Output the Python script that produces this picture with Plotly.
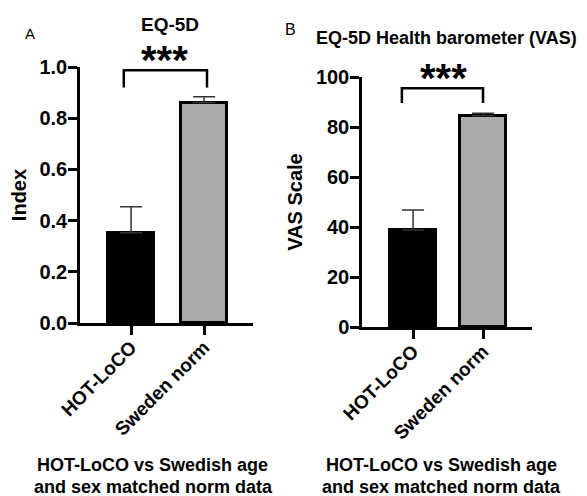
import plotly.graph_objects as go

# Data
categories = ["HOT-LoCO", "Sweden norm"]
eq5d_index = [0.353, 0.861]
eq5d_err = [0.101, 0.023]
vas_scale = [38.8, 84.5]
vas_err = [8.0, 1.0]
bar_colors = ["#000000", "#aaaaaa"]
y1_ticks = [0, 0.2, 0.4, 0.6, 0.8, 1.0]
y1_ticktext = ["0.0", "0.2", "0.4", "0.6", "0.8", "1.0"]
y2_ticks = [0, 20, 40, 60, 80, 100]

FONT = "Arial, Liberation Sans, sans-serif"
OFF = 8  # page body margin
W, H = 587 - OFF, 496 - OFF

def px_x(p):
    return (p - OFF) / W

def px_y(p):
    return 1 - (p - OFF) / H

fig = go.Figure()

fig.add_trace(go.Bar(
    x=[0, 1], y=eq5d_index, width=0.64,
    marker=dict(color=bar_colors, line=dict(color="black", width=3)),
    error_y=dict(type="data", array=eq5d_err, arrayminus=[0, 0], symmetric=False,
                 color="#333333", thickness=1.5, width=11),
    xaxis="x", yaxis="y", showlegend=False, hoverinfo="skip"))

fig.add_trace(go.Bar(
    x=[0, 1], y=vas_scale, width=0.66,
    marker=dict(color=bar_colors, line=dict(color="black", width=3)),
    error_y=dict(type="data", array=vas_err, arrayminus=[0, 0], symmetric=False,
                 color="#333333", thickness=1.5, width=11),
    xaxis="x2", yaxis="y2", showlegend=False, hoverinfo="skip"))

axis_common = dict(showline=True, linecolor="black", linewidth=2.5, ticks="outside",
                   ticklen=9, tickwidth=2.5, tickcolor="black", showgrid=False,
                   zeroline=False, mirror=False, automargin=False)
bold = dict(family=FONT, color="black", weight="bold")

fig.update_layout(
    width=W, height=H, margin=dict(l=0, r=0, t=0, b=0, autoexpand=False),
    plot_bgcolor="white", paper_bgcolor="white", bargap=0,
    xaxis=dict(domain=[px_x(80), px_x(253)], range=[-0.70, 1.67], tickvals=[0, 1],
               ticktext=categories, tickangle=-45, tickfont=dict(size=19, **bold),
               ticklabelstandoff=-6, anchor="y", **axis_common),
    yaxis=dict(domain=[px_y(323), px_y(67)], range=[0, 1.0], tickvals=y1_ticks,
               ticktext=y1_ticktext, tickfont=dict(size=20, **bold), ticklabelstandoff=-3,
               title=dict(text="Index", font=dict(size=20, **bold), standoff=8),
               anchor="x", **axis_common),
    xaxis2=dict(domain=[px_x(362), px_x(532)], range=[-0.73, 1.70], tickvals=[0, 1],
                ticktext=categories, tickangle=-45, tickfont=dict(size=19, **bold),
                ticklabelstandoff=-6, anchor="y2", **axis_common),
    yaxis2=dict(domain=[px_y(327), px_y(77)], range=[0, 100], tickvals=y2_ticks,
                tickfont=dict(size=20, **bold), ticklabelstandoff=-3,
                title=dict(text="VAS Scale", font=dict(size=20, **bold), standoff=8),
                anchor="x2", **axis_common),
)

# Significance brackets
fig.add_shape(type="path", xref="x", yref="y",
              path="M -0.10,0.92 L -0.10,0.987 L 1.04,0.987 L 1.04,0.92",
              line=dict(color="black", width=2.5))
fig.add_shape(type="path", xref="x2", yref="y2",
              path="M -0.16,89.6 L -0.16,95.5 L 1.0,95.5 L 1.0,89.6",
              line=dict(color="black", width=2.5))

def txt(text, x, y, size, weight=True):
    f = dict(size=size, **bold) if weight else dict(size=size, family=FONT, color="black")
    return dict(text=text, x=px_x(x), y=px_y(y), xref="paper", yref="paper", showarrow=False,
                font=f, xanchor="center", yanchor="middle")

annotations = [
    txt("***", 164.5, 59.5, 40),
    txt("***", 443, 78.5, 40),
    txt("EQ-5D", 170, 24, 19),
    txt("EQ-5D Health barometer (VAS)", 446, 38, 18),
    txt("A", 30, 33, 15, weight=False),
    txt("B", 290, 30, 16, weight=False),
    txt("HOT-LoCO vs Swedish age", 152, 465, 18),
    txt("and sex matched norm data", 153, 487, 18),
    txt("HOT-LoCO vs Swedish age", 441, 465, 18),
    txt("and sex matched norm data", 441, 487, 18),
]
fig.update_layout(annotations=annotations)

fig.write_html("out.html")
